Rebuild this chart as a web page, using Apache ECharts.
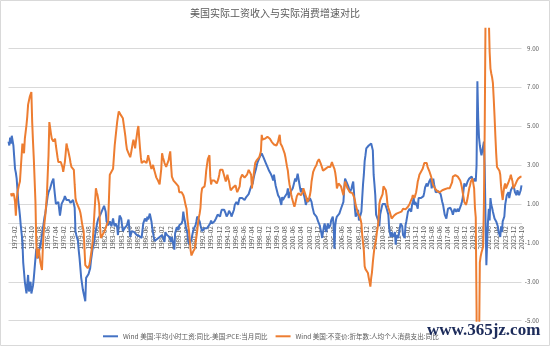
<!DOCTYPE html>
<html>
<head>
<meta charset="utf-8">
<script src="https://cdn.jsdelivr.net/npm/echarts@6/dist/echarts.min.js"></script>
<style>
  html, body { margin: 0; padding: 0; background: #fff; }
  #chart { width: 550px; height: 346px; }
</style>
</head>
<body>
<div id="chart"></div>
<script>
const TITLE = '美国实际工资收入与实际消费增速对比';
const SERIES_NAMES = [
  'Wind 美国:平均小时工资:同比-美国:PCE:当月同比',
  'Wind 美国:不变价:折年数:人均个人消费支出:同比'
];
// monthly categories 1972-06 .. 2024-10
const START_YEAR = 1972, START_MONTH = 6, END_YEAR = 2024, END_MONTH = 10;
const months = [];
for (let y = START_YEAR, m = START_MONTH; y < END_YEAR || (y === END_YEAR && m <= END_MONTH);) {
  months.push(y + '-' + String(m).padStart(2, '0'));
  m++; if (m > 12) { m = 1; y++; }
}
// shown x labels: every 10 months from 1973-02
const FIRST_LABEL = '1973-02';
const LABEL_STEP = 10;
// y axis range and tick labels
const Y_MIN = -5, Y_MAX = 10;
const Y_TICKS = [-5, -3, -1, 1, 3, 5, 7, 9];

// Blue: real average hourly earnings yoy (wage yoy - PCE yoy)
const realWage = [
  4.2, 4.0, 4.4, 4.1, 4.5, 4.6, 4.0, 3.4, 2.8, 2.6,
  2.3, 1.7, 1.1, 0.8, 0.4, -0.1, -0.5, -0.9, -2.0, -2.5,
  -3.0, -3.3, -3.6, -3.1, -2.65, -3.5, -3.2, -3.0, -3.6, -3.4,
  -3.2, -2.8, -2.3, -1.8, -1.3, -1.5, -1.8, -1.5, -1.3, -1.1,
  -0.9, -0.6, -0.3, 0.0, 0.3, 0.5, 0.8, 1.1, 1.4, 1.6,
  1.7, 1.8, 1.9, 2.1, 2.2, 2.3, 1.8, 1.4, 1.0, 0.9,
  0.95, 1.1, 1.0, 0.4, 0.7, 1.0, 1.1, 1.1, 1.25, 1.4,
  1.3, 1.2, 1.15, 1.1, 1.2, 1.2, 1.05, 0.95, 1.1, 1.2,
  1.0, 0.8, -0.4, -0.6, -0.75, -0.9, -1.4, -1.8, -2.3, -2.8,
  -3.1, -3.4, -3.6, -3.8, -4.0, -2.8, -2.9, -2.7, -2.6, -2.5,
  -2.3, -1.9, -1.6, -1.3, -1.1, -0.9, -0.6, -0.35, -0.1, 0.1,
  0.25, 0.35, 0.4, 0.5, 0.6, 0.55, 0.6, 0.9, 0.75, 0.6,
  0.1, 0.0, -0.1, 0.0, 0.1, 0.0, -0.15, 0.05, 0.25, 0.0,
  -0.15, 0.0, 0.1, -0.2, -0.6, 0.0, 0.4, 0.3, 0.25, -0.1,
  -0.4, -0.3, -0.25, -0.2, -0.15, -0.1, 0.05, 0.2, -0.3, -0.7,
  -0.55, -0.4, -0.45, -0.5, -0.45, -0.5, -0.55, -0.6, -0.65, -0.7,
  -0.65, -0.6, -0.7, -0.75, -0.35, 0.0, 0.1, 0.25, 0.15, 0.1,
  0.35, 0.2, 0.1, 0.5, 0.3, 0.1, -0.25, -0.5, -0.75, -0.9,
  -0.95, -0.85, -0.8, -0.75, -0.72, -0.7, -0.7, -0.75, -0.6, -0.5,
  -0.7, -0.95, -0.45, -0.5, -0.6, -0.55, -0.5, -0.7, -0.8, -0.95,
  -0.7, -0.6, -0.75, -1.35, -0.5, -0.35, -0.2, -0.3, -0.35, -0.1,
  -0.15, -0.2, 0.0, 0.15, 0.6, 0.3, 0.1, -0.15, -0.35, -0.5,
  -0.95, -1.0, -1.1, -1.0, -0.8, -0.6, -0.4, -0.25, -0.35, -0.1,
  0.1, 0.35, 0.3, 0.35, 0.1, -0.1, -0.25, -0.4, -0.5, -0.35,
  -0.25, -0.3, -0.35, -0.25, -0.15, -0.12, -0.1, 0.0, 0.15, 0.0,
  -0.1, 0.0, 0.1, 0.2, 0.25, 0.35, 0.45, 0.45, 0.4, 0.35,
  0.55, 0.7, 0.75, 0.75, 0.7, 0.7, 0.5, 0.35, 0.45, 0.5,
  0.65, 0.75, 0.5, 0.35, 0.4, 0.45, 0.7, 0.95, 1.0, 1.1,
  1.0, 0.95, 1.15, 1.3, 1.25, 1.2, 1.3, 1.35, 1.25, 1.2,
  1.3, 1.35, 1.4, 1.45, 1.5, 1.55, 1.6, 1.9, 2.0, 2.05,
  2.3, 2.5, 2.65, 2.8, 3.0, 3.15, 3.2, 3.25, 3.45, 3.55,
  3.6, 3.5, 3.4, 3.4, 3.35, 3.1, 3.0, 2.9, 2.8, 2.7,
  2.65, 2.55, 2.5, 2.35, 2.2, 2.5, 2.2, 1.95, 1.9, 1.9,
  1.45, 1.4, 1.3, 1.1, 0.95, 1.35, 1.2, 1.1, 1.35, 1.3,
  1.3, 1.55, 1.8, 1.3, 1.45, 1.6, 1.65, 1.7, 1.8, 1.75,
  1.7, 2.3, 2.15, 2.05, 2.55, 2.3, 2.05, 1.8, 1.6, 1.8,
  1.7, 1.55, 1.4, 1.2, 0.95, 1.1, 1.3, 1.1, 1.0, 1.3,
  1.2, 1.1, 0.85, 0.75, 0.5, 0.55, 0.6, 0.35, 0.25, 0.1,
  0.0, -0.1, -0.3, -0.5, -0.75, -0.45, -0.2, 0.0, -0.25, -0.45,
  -0.2, 0.0, -0.25, -0.2, -0.1, 0.15, 0.25, 0.35, -0.1, -1.3,
  -0.1, 0.2, 0.35, 0.3, 0.25, 0.5, 0.6, 0.75, 0.7, 0.7,
  1.1, 1.8, 2.3, 2.2, 2.1, 2.05, 1.9, 1.8, 1.6, 1.7,
  1.8, 2.0, 2.15, 1.55, 0.8, 0.35, 0.25, 0.5, 0.7, 0.15,
  0.2, 0.25, 0.6, 1.3, 2.0, 2.5, 3.2, 3.5, 3.85, 3.9,
  3.95, 4.0, 4.0, 4.0, 4.1, 4.2, 3.75, 2.5, 2.0, 1.45,
  0.45, 0.4, 0.35, 0.1, -0.15, 0.45, 0.65, 0.85, 1.0, 1.1,
  0.95, 1.0, 1.0, 0.75, 0.6, 0.45, -0.25, -0.5, -0.7, -0.45,
  -0.55, -0.7, -0.6, -0.45, -1.1, -0.6, -0.65, -0.75, -0.5, -0.25,
  0.0, -0.05, -0.15, -0.6, -0.7, -0.75, -0.1, 0.1, 0.35, 0.6,
  0.65, 0.75, 0.7, 0.6, 0.95, 1.1, 1.3, 0.95, 1.1, 1.2,
  0.9, 0.75, 1.3, 1.25, 1.2, 1.3, 1.25, 1.2, 1.4, 1.6,
  1.85, 1.95, 2.05, 1.9, 1.8, 2.15, 2.2, 2.3, 1.8, 2.0,
  2.3, 2.0, 1.8, 1.6, 1.7, 1.7, 1.65, 1.6, 1.55, 1.5,
  1.3, 1.1, 0.95, 0.7, 0.45, 0.35, 0.25, 0.5, 0.75, 0.8,
  0.85, 0.8, 0.75, 0.6, 0.45, 0.6, 0.75, 0.7, 0.6, 0.7,
  0.75, 0.6, 0.5, 0.7, 0.95, 1.1, 1.3, 1.7, 2.05, 2.0,
  1.9, 2.0, 2.15, 2.25, 2.3, 2.35, 2.4, 2.4, 2.3, 2.15,
  2.2, 2.3, 2.15, 3.0, 7.3, 5.4, 4.4, 4.0, 3.7, 3.5,
  3.4, 3.5, 4.2, 2.8, 0.1, -2.15, -0.9, 0.1, 0.75, 0.15,
  1.3, 0.95, 0.8, 0.6, 0.7, 0.25, 0.2, 0.1, 0.0, -0.15,
  -0.45, -0.55, -0.7, -0.15, -0.45, 0.1, 0.2, 0.35, 0.95, 1.2,
  1.45, 1.55, 1.6, 1.3, 1.5, 1.7, 1.6, 1.75, 1.95, 1.8,
  1.6, 1.5, 1.45, 1.7, 1.6, 1.45, 1.55, 1.7, 1.95
];

// Orange: real per-capita personal consumption expenditure yoy
const realConsumption = [
  null, null, null, 1.55, 1.4, 1.3, 1.55, 1.4, 1.1, 0.4,
  1.2, 1.6, 1.8, 2.0, 2.15, 2.2, 2.2, 4.1, 3.8, 3.6,
  4.35, 4.7, 5.05, 5.5, 6.1, 6.3, 6.5, 6.6, 6.75, 5.2,
  4.2, 3.3, 2.2, 1.1, -1.0, -1.8, -1.5, -1.3, -1.35, -2.0,
  -2.2, -2.4, -1.3, -0.5, 0.0, 0.4, 0.9, 1.45, 2.5, 3.5,
  5.2, 4.9, 4.6, 4.35, 4.25, 4.2, 4.3, 4.35, 4.0, 3.7,
  3.4, 3.15, 3.1, 3.1, 3.15, 3.15, 2.9, 2.65, 2.9, 3.15,
  3.6, 4.1, 3.9, 3.75, 3.55, 3.35, 3.1, 2.9, 2.85, 2.8,
  2.75, 2.0, 1.3, 1.1, 1.0, 0.9, 0.8, 0.7, 0.55, 0.3,
  0.0, -0.2, -0.4, -1.3, -2.15, -2.2, -2.25, -2.3, -2.2, -2.15,
  -1.9, -1.6, -1.3, -0.95, -0.3, 0.4, 1.1, 1.8, 1.6, 1.45,
  1.2, 0.95, -0.1, -0.75, -0.7, -0.6, -0.5, -0.45, -0.35, -0.25,
  -0.1, 0.0, 0.1, 1.3, 2.5, 2.6, 2.65, 2.7, 2.8, 3.4,
  4.0, 4.4, 4.8, 5.2, 5.5, 5.75, 5.7, 5.6, 5.55, 5.5,
  5.4, 5.1, 4.8, 4.5, 4.1, 3.8, 3.7, 3.6, 3.5, 3.4,
  3.6, 3.85, 4.1, 4.3, 4.1, 3.85, 4.2, 4.5, 4.8, 5.0,
  4.4, 3.85, 3.4, 3.1, 3.15, 3.15, 3.2, 3.15, 3.1, 3.1,
  3.3, 3.5, 3.3, 3.15, 2.95, 2.8, 2.9, 3.0, 2.8, 2.65,
  2.5, 2.35, 2.25, 2.2, 2.1, 2.0, 1.9, 2.8, 3.6, 3.4,
  3.25, 3.1, 3.0, 2.9, 2.8, 3.0, 3.25, 3.5, 3.7, 3.0,
  2.4, 2.3, 2.2, 2.15, 2.1, 2.05, 2.1, 2.15, 1.9, 1.6,
  1.7, 1.65, 1.6, 1.5, 1.45, 1.3, 1.1, 0.9, 0.75, 0.25,
  -0.1, -0.4, -0.9, -1.4, -1.65, -1.7, -1.45, -1.4, -1.3, -1.0,
  -0.7, -0.4, 0.0, 0.3, 0.5, 0.8, 1.5, 1.8, 1.7, 1.75,
  1.9, 2.2, 2.7, 3.0, 3.3, 3.35, 3.5, 2.4, 2.0, 2.2,
  2.3, 2.2, 2.2, 2.3, 2.25, 2.05, 2.1, 2.3, 2.5, 2.75,
  2.8, 2.75, 2.75, 2.6, 2.55, 2.3, 2.15, 2.3, 2.5, 2.3,
  2.15, 1.9, 1.7, 1.75, 1.8, 1.85, 1.9, 1.9, 1.95, 1.75,
  1.6, 1.6, 1.6, 1.9, 2.3, 2.4, 2.5, 2.45, 2.4, 2.35,
  2.3, 2.4, 2.5, 2.6, 2.75, 2.8, 2.8, 2.5, 1.8, 2.2,
  2.45, 2.8, 3.1, 3.2, 3.25, 3.3, 3.35, 3.4, 3.5, 3.7,
  4.55, 4.3, 4.2, 4.3, 4.35, 4.4, 4.45, 4.45, 4.45, 4.4,
  4.35, 4.3, 4.2, 4.15, 4.1, 4.05, 4.0, 4.0, 4.0, 4.1,
  4.2, 4.4, 4.55, 4.1, 4.0, 3.95, 3.9, 3.85, 3.6, 3.4,
  3.15, 2.9, 2.7, 2.3, 2.0, 1.8, 1.5, 1.3, 1.15, 1.0,
  0.85, 1.0, 1.2, 1.4, 1.5, 1.55, 1.5, 1.45, 1.45, 1.55,
  1.6, 1.8, 1.9, 1.7, 1.4, 1.3, 1.1, 1.2, 1.3, 1.45,
  1.7, 2.15, 2.4, 2.65, 2.75, 2.85, 2.9, 3.0, 3.15, 3.25,
  3.3, 3.35, 3.1, 3.0, 2.85, 2.7, 2.65, 2.75, 2.8, 2.75,
  2.85, 2.9, 2.85, 2.8, 2.9, 3.0, 3.15, 3.0, 2.9, 2.8,
  2.6, 2.3, 1.8, 1.9, 2.05, 2.15, 2.1, 1.9, 1.75, 1.6,
  1.45, 1.8, 2.15, 2.1, 2.05, 1.8, 1.75, 1.7, 1.6, 1.55,
  1.55, 1.55, 1.5, 1.35, 1.2, 0.95, 0.8, 0.7, 0.5, 0.4,
  0.35, 0.2, 0.0, -0.6, -1.0, -1.4, -2.2, -2.35, -2.4, -2.45,
  -2.55, -2.8, -3.0, -3.25, -2.8, -2.5, -2.0, -1.6, -1.25, -1.05,
  -0.8, -0.45, -0.2, 0.2, 1.0, 1.2, 1.2, 1.3, 1.5, 1.9,
  1.95, 1.9, 1.7, 1.4, 0.95, 0.8, 0.7, 0.55, 0.4, 0.25,
  0.3, 0.35, 0.4, 0.3, 0.4, 0.5, 0.55, 0.6, 0.55, 0.5,
  0.55, 0.6, 0.65, 0.75, 0.72, 0.7, 0.72, 0.75, 0.8, 0.85,
  0.9, 1.0, 1.05, 1.1, 1.3, 1.45, 1.4, 1.3, 1.45, 1.6,
  1.85, 2.15, 2.3, 2.5, 2.6, 2.65, 2.7, 2.8, 2.95, 3.1,
  3.12, 3.15, 3.1, 2.9, 2.8, 2.7, 2.6, 2.45, 2.3, 2.1,
  1.95, 1.85, 1.8, 1.75, 1.7, 1.65, 1.6, 1.6, 1.6, 1.65,
  1.7, 1.7, 1.72, 1.75, 1.75, 1.75, 1.78, 1.8, 1.8, 1.8,
  1.8, 1.8, 1.8, 2.1, 2.4, 2.42, 2.45, 2.48, 2.5, 2.45,
  2.4, 2.35, 2.3, 2.2, 2.05, 1.85, 1.6, 1.35, 1.1, 1.0,
  0.95, 1.1, 1.3, 1.55, 1.8, 1.95, 2.15, 2.2, 2.3, 2.3,
  1.8, 0.8, 0.3, -4.5, -17, -11, -6.5, -2.0, -1.7, -1.5,
  -1.35, -1.2, 1.0, 5.0, 10.8, 22, 15, 12, 10.5, 8.8,
  7.95, 7.7, 7.5, 7.2, 6.4, 5.5, 4.5, 3.6, 2.9, 2.8,
  2.8, 2.7, 2.5, 1.9, 1.5, 1.2, 1.6, 1.9, 2.05, 1.8,
  1.85, 1.9, 2.1, 2.2, 2.35, 2.5, 2.3, 2.15, 1.8, 1.9,
  1.95, 2.05, 2.15, 2.2, 2.3, 2.3, 2.35, 2.4, 2.4
];

const firstLabelIndex = months.indexOf(FIRST_LABEL);
const GRID_TOP = 28.7, GRID_BOTTOM = 25.3, CHART_H = 346;
const gridH = CHART_H - GRID_TOP - GRID_BOTTOM;
// lift the category axis (line + labels) from the bottom edge to the value 0 line
const zeroOffset = -gridH * (0 - Y_MIN) / (Y_MAX - Y_MIN);

const chart = echarts.init(document.getElementById('chart'), null, { renderer: 'canvas' });
const FONT = '"Noto Sans CJK SC", "Noto Sans", sans-serif';
const option = {
  animation: false,
  backgroundColor: '#ffffff',
  title: {
    text: TITLE, left: 'center', top: 3,
    textStyle: { fontSize: 10, fontWeight: 'normal', color: '#595959', fontFamily: FONT }
  },
  legend: {
    left: 98, top: 328, itemWidth: 15, itemHeight: 2, icon: 'rect', itemGap: 8,
    textStyle: { fontSize: 6.6, color: '#595959', fontFamily: FONT },
    data: SERIES_NAMES
  },
  grid: { left: 8.5, right: 28.5, top: GRID_TOP, bottom: GRID_BOTTOM, containLabel: false, outerBoundsMode: 'none' },
  xAxis: {
    type: 'category', data: months, boundaryGap: false,
    offset: zeroOffset,
    axisLine: { show: true, onZero: false, lineStyle: { color: '#d9d9d9', width: 1 } },
    axisTick: { show: false },
    splitLine: { show: false },
    axisLabel: {
      rotate: 90, fontSize: 6.3, color: '#595959', margin: 3, fontFamily: FONT,
      interval: (idx) => idx >= firstLabelIndex && (idx - firstLabelIndex) % LABEL_STEP === 0
    }
  },
  yAxis: {
    type: 'value', position: 'right', min: Y_MIN, max: Y_MAX,
    axisLine: { show: false },
    axisTick: { show: false, customValues: Y_TICKS },
    axisLabel: {
      customValues: Y_TICKS, formatter: (v) => Number(v).toFixed(2),
      fontSize: 6.2, color: '#595959', align: 'right', margin: 17.5, fontFamily: FONT
    },
    splitLine: { show: true, lineStyle: { color: '#d9d9d9', width: 1 } }
  },
  series: [
    { name: SERIES_NAMES[0], type: 'line', data: realWage, showSymbol: false, symbol: 'none',
      lineStyle: { color: '#4472C4', width: 2 }, itemStyle: { color: '#4472C4' } },
    { name: SERIES_NAMES[1], type: 'line', data: realConsumption, showSymbol: false, symbol: 'none',
      lineStyle: { color: '#ED7D31', width: 2 }, itemStyle: { color: '#ED7D31' } }
  ],
  graphic: [
    { type: 'rect', silent: true, z: -10, shape: { x: 0.5, y: 0.5, width: 549, height: 345 },
      style: { fill: 'none', stroke: '#d9d9d9', lineWidth: 1 } },
    { type: 'text', silent: true, z: 100, left: 427, top: 322,
      style: { text: 'www.365jz.com', font: 'bold 17px "Liberation Serif", serif', fill: '#1c2b5a' } }
  ]
};
chart.setOption(option);
</script>
</body>
</html>
